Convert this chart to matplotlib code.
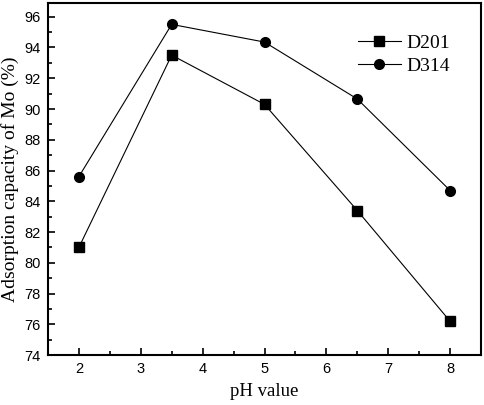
import matplotlib.pyplot as plt
from matplotlib.ticker import MultipleLocator

ph = [2, 3.5, 5, 6.5, 8]
d201 = [81.0, 93.5, 90.3, 83.4, 76.2]
d314 = [85.6, 95.5, 94.35, 90.65, 84.7]

fig = plt.figure(figsize=(4.84, 4.05), dpi=100)
ax = fig.add_axes([0.099, 0.123, 0.895, 0.870])

ax.plot(ph, d201, '-s', color='black', lw=0.8, ms=6.5, label='D201')
ax.plot(ph, d314, '-o', color='black', lw=0.8, ms=7, label='D314')

ax.set_xlim(1.5, 8.5)
ax.set_ylim(74, 96.9)
ax.xaxis.set_major_locator(MultipleLocator(1))
ax.xaxis.set_minor_locator(MultipleLocator(0.5))
ax.yaxis.set_major_locator(MultipleLocator(2))
ax.yaxis.set_minor_locator(MultipleLocator(1))
ax.tick_params(which='both', direction='in', width=1.2)
ax.tick_params(which='major', length=5, labelsize=10.5, pad=5)
ax.tick_params(which='minor', length=3)
for lab in ax.get_xticklabels() + ax.get_yticklabels():
    lab.set_family('Liberation Sans')
for s in ax.spines.values():
    s.set_linewidth(1.5)

ax.set_xlabel('pH value', family='Liberation Serif', fontsize=13.5, labelpad=5)
ax.set_ylabel('Adsorption capacity of Mo (%)', family='Liberation Serif', fontsize=14, labelpad=4)

ax.legend(loc='upper right', frameon=False, prop={'family': 'Liberation Serif', 'size': 14},
          handlelength=2.2, handletextpad=0.3, borderaxespad=1.2, labelspacing=0.3)

fig.savefig('out.png', dpi=100)
